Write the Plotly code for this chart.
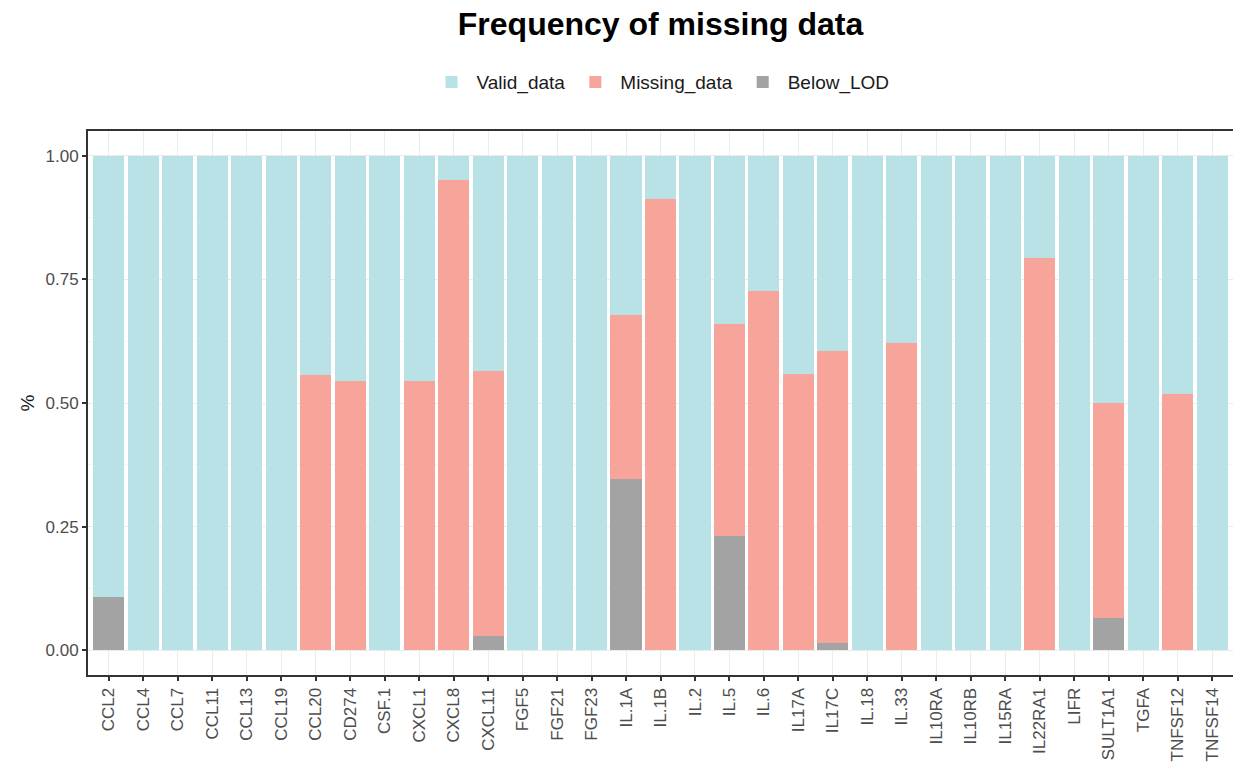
import plotly.graph_objects as go

categories = ["CCL2", "CCL4", "CCL7", "CCL11", "CCL13", "CCL19", "CCL20", "CD274", "CSF.1",
              "CXCL1", "CXCL8", "CXCL11", "FGF5", "FGF21", "FGF23", "IL.1A", "IL.1B", "IL.2",
              "IL.5", "IL.6", "IL17A", "IL17C", "IL.18", "IL.33", "IL10RA", "IL10RB", "IL15RA",
              "IL22RA1", "LIFR", "SULT1A1", "TGFA", "TNFSF12", "TNFSF14"]

below_lod = [0.107, 0, 0, 0, 0, 0, 0, 0, 0,
             0, 0, 0.028, 0, 0, 0, 0.346, 0, 0,
             0.232, 0, 0, 0.014, 0, 0, 0, 0, 0,
             0, 0, 0.065, 0, 0, 0]

missing_data = [0, 0, 0, 0, 0, 0, 0.557, 0.545, 0,
                0.545, 0.951, 0.536, 0, 0, 0, 0.332, 0.913, 0,
                0.427, 0.726, 0.559, 0.591, 0, 0.622, 0, 0, 0,
                0.793, 0, 0.435, 0, 0.518, 0]

valid_data = [0.893, 1, 1, 1, 1, 1, 0.443, 0.455, 1,
              0.455, 0.049, 0.436, 1, 1, 1, 0.322, 0.087, 1,
              0.341, 0.274, 0.441, 0.395, 1, 0.378, 1, 1, 1,
              0.207, 1, 0.500, 1, 0.482, 1]

y_ticks = [0, 0.25, 0.5, 0.75, 1.0]
y_tick_labels = ["0.00", "0.25", "0.50", "0.75", "1.00"]

COL_VALID = "#B9E2E6"
COL_MISSING = "#F7A59B"
COL_BELOW = "#A3A3A3"

fig = go.Figure()
fig.add_trace(go.Bar(x=categories, y=below_lod, name="Below_LOD", marker_color=COL_BELOW,
                     marker_line_width=0))
fig.add_trace(go.Bar(x=categories, y=missing_data, name="Missing_data", marker_color=COL_MISSING,
                     marker_line_width=0))
fig.add_trace(go.Bar(x=categories, y=valid_data, name="Valid_data", marker_color=COL_VALID,
                     marker_line_width=0))

font_family = "Liberation Sans, Arial, sans-serif"

W, H = 1233, 767

fig.update_layout(
    width=W, height=H,
    barmode="stack", bargap=0.1,
    paper_bgcolor="white", plot_bgcolor="white",
    margin=dict(l=88, r=0, t=131, b=92),
    font=dict(family=font_family, color="#1A1A1A"),
    title=dict(text="<b>Frequency of missing data</b>", x=0.5, xref="paper", xanchor="center",
               y=1 - 24 / H, yref="container", yanchor="middle",
               font=dict(size=32, color="#000000", family=font_family)),
    legend=dict(orientation="h", x=0.5, xanchor="center", y=1.09, yanchor="middle",
                traceorder="reversed", font=dict(size=19, color="#1A1A1A"),
                itemwidth=40, bgcolor="rgba(0,0,0,0)"),
    xaxis=dict(
        type="category", range=[-0.6, len(categories) - 0.4],
        tickangle=-90, tickfont=dict(size=17, color="#4D4D4D"),
        ticks="outside", ticklen=4, tickcolor="#333333", tickwidth=1.5,
        showgrid=True, gridcolor="#EBEBEB", gridwidth=1,
        showline=True, mirror=True, linecolor="#333333", linewidth=2,
        automargin=False, zeroline=False,
    ),
    yaxis=dict(
        range=[-0.05, 1.05], tickvals=y_ticks, ticktext=y_tick_labels,
        tickfont=dict(size=17, color="#4D4D4D"),
        ticks="outside", ticklen=4, tickcolor="#333333", tickwidth=1.5,
        showgrid=True, gridcolor="#EBEBEB", gridwidth=1,
        minor=dict(tickvals=[0.125, 0.375, 0.625, 0.875], showgrid=True,
                   gridcolor="#F5F5F5", gridwidth=0.8, ticks=""),
        showline=True, mirror=True, linecolor="#333333", linewidth=2,
        zeroline=False, automargin=False,
        title=dict(text="%", font=dict(size=19, color="#1A1A1A"), standoff=6),
    ),
)

fig.write_html(
    "out.html",
    config={"displayModeBar": False},
    post_script="document.body.style.margin='0';document.body.style.overflow='hidden';",
)
